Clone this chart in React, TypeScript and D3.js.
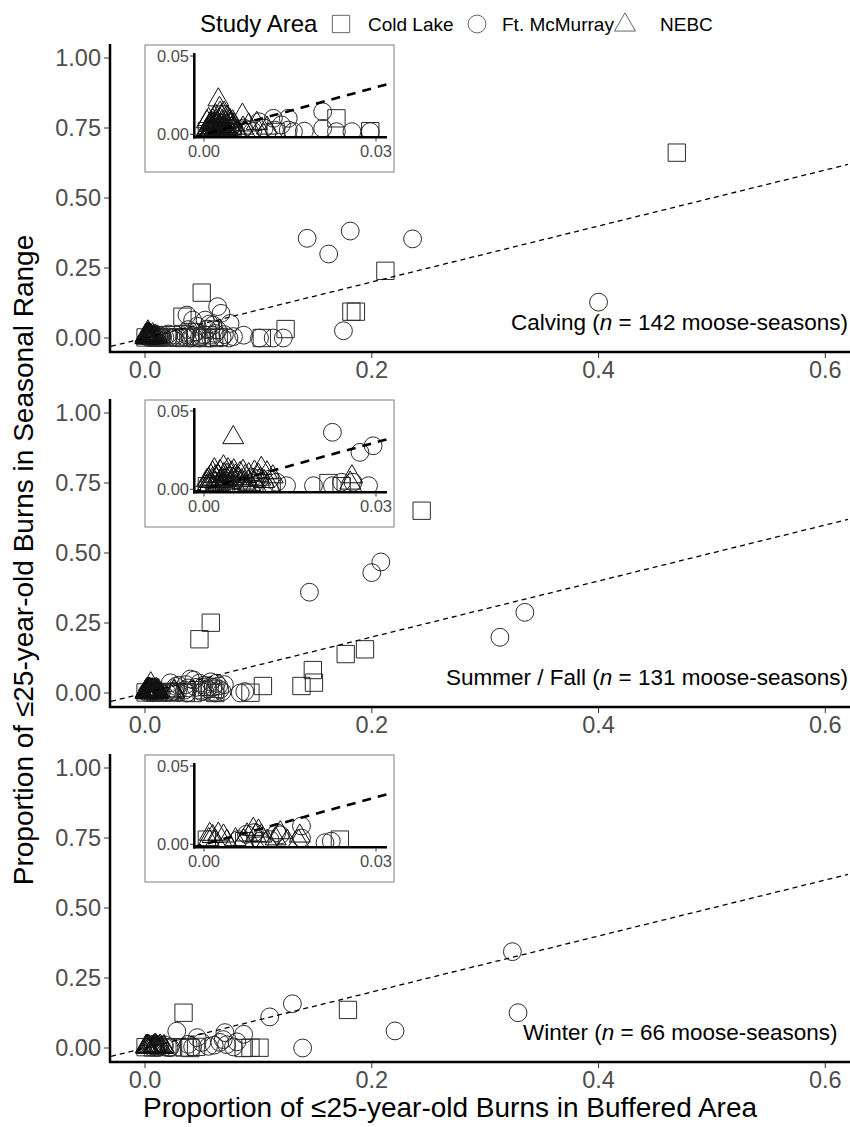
import React, { useEffect, useRef } from 'react';
import * as d3 from 'd3';

type Pt = [number, number];

// Calving season
const calvingCold: Pt[] = [
  [0.0231, 0.0102], [0.029, 0.002], [0.0005, 0.002], [0.0125, 0.0015],
  [0.05, 0.162], [0.033, 0.076], [0.124, 0.032], [0.212, 0.24], [0.182, 0.094], [0.186, 0.094],
  [0.469, 0.662], [0.103, 0.0], [0.061, 0.0], [0.05, 0.0], [0.035, 0.0], [0.055, 0.01],
  [0.045, 0.005], [0.04, 0.02], [0.058, 0.03], [0.065, 0.004],
];
const calvingFt: Pt[] = [
  [0.0069, 0.004], [0.0096, 0.008], [0.0121, 0.0102], [0.0123, 0.0027], [0.0147, 0.0102],
  [0.0147, 0.0027], [0.0156, 0.0017], [0.0207, 0.0144], [0.0207, 0.0038], [0.0231, 0.0017],
  [0.0258, 0.0017], [0.029, 0.0017], [0.0105, 0.004], [0.011, 0.001], [0.0045, 0.004],
  [0.003, 0.002], [0.0085, 0.002], [0.0135, 0.006], [0.0175, 0.002], [0.005, 0.0015],
  [0.035, 0.004], [0.037, 0.082], [0.042, 0.064], [0.053, 0.064], [0.064, 0.112], [0.067, 0.088],
  [0.075, 0.052], [0.074, 0.0], [0.078, 0.005], [0.087, 0.01], [0.101, 0.0], [0.113, 0.0],
  [0.122, 0.0], [0.143, 0.356], [0.162, 0.3], [0.181, 0.382], [0.236, 0.354], [0.175, 0.026],
  [0.4, 0.128], [0.036, 0.012], [0.04, 0.0], [0.045, 0.022], [0.05, 0.005], [0.055, 0.032],
  [0.058, 0.0], [0.062, 0.016], [0.068, 0.002], [0.046, 0.042], [0.06, 0.046], [0.038, 0.03],
  [0.052, 0.012], [0.064, 0.028], [0.07, 0.012], [0.042, 0.008], [0.057, 0.05], [0.048, 0.0],
];
const calvingNebc: Pt[] = [
  [0.0025, 0.022], [0.0027, 0.0166], [0.0067, 0.0123], [0.0092, 0.007], [0.005, 0.008],
  [0.004, 0.011], [0.002, 0.012], [0.0015, 0.009], [0.001, 0.006], [0.0005, 0.003],
  [0.001, 0.001], [0.002, 0.004], [0.003, 0.006], [0.0035, 0.002], [0.004, 0.005],
  [0.0045, 0.009], [0.0012, 0.0075], [0.0022, 0.0085], [0.0028, 0.0095], [0.0018, 0.0025],
  [0.0008, 0.0045], [0.0032, 0.0035], [0.0042, 0.0015], [0.0048, 0.004], [0.0052, 0.006],
  [0.0058, 0.002], [0.0068, 0.004], [0.0072, 0.0015], [0.0078, 0.006], [0.0015, 0.0005],
  [0.0025, 0.001], [0.003, 0.0115], [0.0038, 0.0075], [0.002, 0.0065], [0.0005, 0.008],
  [0.0048, 0.0035], [0.0058, 0.001], [0.0003, 0.0015], [0.0013, 0.0035], [0.0035, 0.0135],
  [0.011, 0.004], [0.0095, 0.002],
  [0.001, 0.0025], [0.0015, 0.004], [0.002, 0.0015], [0.0025, 0.005], [0.003, 0.0025],
  [0.0035, 0.0045], [0.004, 0.003], [0.0045, 0.0065], [0.0012, 0.0055], [0.0022, 0.007],
  [0.0032, 0.0082], [0.0018, 0.0105], [0.0028, 0.0135], [0.0008, 0.0095], [0.0042, 0.0102],
  [0.0022, 0.0055], [0.0028, 0.0045], [0.0038, 0.0025], [0.0025, 0.0028], [0.0015, 0.0068],
];

// Summer / Fall season
const summerCold: Pt[] = [
  [0.0217, 0.004], [0.0005, 0.002], [0.024, 0.002], [0.0118, 0.0015],
  [0.058, 0.251], [0.048, 0.192], [0.177, 0.139], [0.194, 0.156], [0.148, 0.082], [0.149, 0.037],
  [0.138, 0.025], [0.104, 0.025], [0.093, 0.001], [0.244, 0.651], [0.057, 0.005], [0.05, 0.01],
  [0.062, 0.0], [0.06, 0.015], [0.036, 0.002], [0.042, 0.0], [0.055, 0.022],
];
const summerFt: Pt[] = [
  [0.0224, 0.0364], [0.0295, 0.0278], [0.0272, 0.0236], [0.0191, 0.0023], [0.0224, 0.0023],
  [0.024, 0.0045], [0.026, 0.0045], [0.0287, 0.0023], [0.0144, 0.0023], [0.0127, 0.0045],
  [0.0098, 0.007], [0.0035, 0.004], [0.0055, 0.006], [0.0075, 0.0035], [0.0085, 0.0075],
  [0.0105, 0.002], [0.0065, 0.001], [0.002, 0.002], [0.0115, 0.0065], [0.0045, 0.0085],
  [0.145, 0.36], [0.2, 0.43], [0.208, 0.468], [0.335, 0.288], [0.313, 0.199], [0.084, 0.0],
  [0.088, 0.005], [0.063, 0.035], [0.06, 0.02], [0.043, 0.046], [0.04, 0.05], [0.035, 0.01],
  [0.037, 0.0], [0.045, 0.02], [0.05, 0.005], [0.055, 0.015], [0.065, 0.025], [0.068, 0.005],
  [0.07, 0.03], [0.036, 0.03], [0.048, 0.035], [0.058, 0.04], [0.052, 0.028], [0.038, 0.018],
  [0.066, 0.012], [0.062, 0.0],
];
const summerNebc: Pt[] = [
  [0.0051, 0.033], [0.0034, 0.0144], [0.01, 0.0134], [0.0258, 0.008], [0.0255, 0.004],
  [0.0063, 0.0102], [0.0078, 0.0094], [0.0015, 0.0105], [0.002, 0.008], [0.001, 0.005],
  [0.0005, 0.002], [0.0025, 0.003], [0.003, 0.0065], [0.004, 0.009], [0.0045, 0.004],
  [0.005, 0.0065], [0.0055, 0.002], [0.006, 0.007], [0.007, 0.004], [0.0075, 0.0015],
  [0.0085, 0.006], [0.009, 0.0025], [0.0095, 0.009], [0.0105, 0.005], [0.0115, 0.0025],
  [0.012, 0.008], [0.0012, 0.0085], [0.0028, 0.0115], [0.0038, 0.0015], [0.0042, 0.0125],
  [0.0018, 0.001], [0.0068, 0.0115], [0.0088, 0.011], [0.0035, 0.0055], [0.0008, 0.0065],
  [0.0048, 0.0105],
  [0.001, 0.003], [0.0015, 0.0065], [0.002, 0.004], [0.0025, 0.0085], [0.003, 0.0015],
  [0.0035, 0.0095], [0.004, 0.0065], [0.0045, 0.0015], [0.0055, 0.0085], [0.0065, 0.0055],
  [0.0072, 0.0082], [0.008, 0.003], [0.0018, 0.0125], [0.0028, 0.005], [0.0052, 0.0118],
  [0.0098, 0.0065], [0.011, 0.0105], [0.0005, 0.0055],
];

// Winter season
const winterCold: Pt[] = [
  [0.0005, 0.003], [0.0237, 0.003], [0.007, 0.002],
  [0.179, 0.136], [0.034, 0.126], [0.101, 0.001], [0.093, 0.001], [0.087, 0.0], [0.04, 0.0],
  [0.045, 0.004], [0.035, 0.002],
];
const winterFt: Pt[] = [
  [0.006, 0.003], [0.0074, 0.0064], [0.0088, 0.0075], [0.0127, 0.0074], [0.0133, 0.006],
  [0.017, 0.0117], [0.017, 0.004], [0.0211, 0.001], [0.0222, 0.002], [0.0115, 0.003],
  [0.0098, 0.002],
  [0.324, 0.344], [0.329, 0.126], [0.2205, 0.061], [0.139, 0.0], [0.13, 0.158], [0.11, 0.111],
  [0.028, 0.06], [0.046, 0.037], [0.0705, 0.055], [0.087, 0.049], [0.069, 0.03], [0.066, 0.02],
  [0.061, 0.01], [0.056, 0.006], [0.038, 0.013], [0.081, 0.022], [0.072, 0.012], [0.05, 0.02],
  [0.078, 0.004], [0.042, 0.004],
];
const winterNebc: Pt[] = [
  [0.001, 0.0064], [0.0015, 0.005], [0.0034, 0.0053], [0.0086, 0.0096], [0.009, 0.0055],
  [0.01, 0.0053], [0.0133, 0.0074], [0.0167, 0.0053], [0.0165, 0.002], [0.0145, 0.002],
  [0.0069, 0.0025], [0.002, 0.002], [0.0025, 0.0065], [0.0008, 0.003], [0.004, 0.002],
  [0.011, 0.002], [0.0125, 0.0035], [0.0075, 0.006], [0.0055, 0.003], [0.0095, 0.0085],
];

const seasons = ['Calving', 'Summer / Fall', 'Winter'];
const seasonN = [142, 131, 66];
const areas = ['Cold Lake', 'Ft. McMurray', 'NEBC'];
const mainXTicks = [0, 0.2, 0.4, 0.6];
const mainYTicks = [0, 0.25, 0.5, 0.75, 1];
const insetXTicks = [0, 0.03];
const insetYTicks = [0, 0.05];

const FONT = '"Liberation Sans", Arial, Helvetica, sans-serif';

export default function App() {
  const ref = useRef<SVGSVGElement>(null);

  useEffect(() => {
    const svg = d3.select(ref.current);
    svg.selectAll('*').remove();

    const sets = [
      [calvingCold, calvingFt, calvingNebc],
      [summerCold, summerFt, summerNebc],
      [winterCold, winterFt, winterNebc],
    ];
    const shapes = [
      d3.symbol(d3.symbolSquare, 300)(),
      d3.symbol(d3.symbolCircle, 250)(),
      d3.symbol(d3.symbolTriangle, 190)(),
    ];
    const strokes = ['#2b2b2b', '#2b2b2b', '#111'];
    // season labels: [anchor x, baseline y, text-anchor]
    const labelPos: [number, number, string][] = [[511, 330, 'start'], [848, 685, 'end'], [523, 1040, 'start']];
    const defs = svg.append('defs');

    sets.forEach((groups, i) => {
      const dy = i * 355;
      const g = svg.append('g');

      // main panel
      const x = d3.scaleLinear().domain([-0.03, 0.62]).range([111, 848]);
      const y = d3.scaleLinear().domain([-0.05, 1.05]).range([352 + dy, 44 + dy]);

      defs.append('clipPath').attr('id', `main-${i}`)
        .append('rect').attr('x', 110).attr('y', 44 + dy).attr('width', 740).attr('height', 308);
      const plot = g.append('g').attr('clip-path', `url(#main-${i})`);
      groups.forEach((pts, k) => {
        plot.selectAll(null).data(pts).join('path')
          .attr('transform', (d) => `translate(${x(d[0])},${y(d[1])})`)
          .attr('d', shapes[k])
          .attr('fill', 'none')
          .attr('stroke', strokes[k])
          .attr('stroke-width', 1);
      });
      plot.append('line')
        .attr('x1', x(-0.03)).attr('y1', y(-0.03))
        .attr('x2', x(0.62)).attr('y2', y(0.62))
        .attr('stroke', '#000').attr('stroke-width', 1.3).attr('stroke-dasharray', '5,4');

      // axes
      g.append('line').attr('x1', 110).attr('x2', 110).attr('y1', y(1.05)).attr('y2', y(-0.05) + 1)
        .attr('stroke', '#000').attr('stroke-width', 2.5);
      g.append('line').attr('x1', 109).attr('x2', 850).attr('y1', y(-0.05)).attr('y2', y(-0.05))
        .attr('stroke', '#000').attr('stroke-width', 2.5);

      mainYTicks.forEach((t) => {
        g.append('line').attr('x1', 104).attr('x2', 109).attr('y1', y(t)).attr('y2', y(t))
          .attr('stroke', '#333').attr('stroke-width', 1);
        g.append('text').attr('x', 101).attr('y', y(t)).attr('dy', '0.36em')
          .attr('text-anchor', 'end').attr('font-size', 23.5).attr('fill', '#4d4d4d')
          .text(d3.format('.2f')(t));
      });
      mainXTicks.forEach((t) => {
        g.append('line').attr('x1', x(t)).attr('x2', x(t)).attr('y1', y(-0.05) + 1).attr('y2', y(-0.05) + 6)
          .attr('stroke', '#333').attr('stroke-width', 1);
        g.append('text').attr('x', x(t)).attr('y', y(-0.05) + 26)
          .attr('text-anchor', 'middle').attr('font-size', 23.5).attr('fill', '#4d4d4d')
          .text(d3.format('.1f')(t));
      });

      // season label
      const lab = g.append('text').attr('x', labelPos[i][0]).attr('y', labelPos[i][1])
        .attr('text-anchor', labelPos[i][2])
        .attr('font-size', 22.5).attr('fill', '#000');
      lab.append('tspan').text(`${seasons[i]} (`);
      lab.append('tspan').attr('font-style', 'italic').text('n');
      lab.append('tspan').text(` = ${seasonN[i]} moose-seasons)`);

      // inset
      const ix = d3.scaleLinear().domain([0, 0.03]).range([204, 376]);
      const iy = d3.scaleLinear().domain([0, 0.05]).range([134.3 + dy, 56 + dy]);
      const ig = g.append('g');
      ig.append('rect').attr('x', 145).attr('y', 45 + dy).attr('width', 249).attr('height', 127)
        .attr('fill', '#fff').attr('stroke', '#7f7f7f').attr('stroke-width', 1);
      defs.append('clipPath').attr('id', `inset-${i}`)
        .append('rect').attr('x', 194.3).attr('y', 53 + dy).attr('width', 193).attr('height', 84.3);
      const iplot = ig.append('g').attr('clip-path', `url(#inset-${i})`);
      groups.forEach((pts, k) => {
        iplot.selectAll(null).data(pts).join('path')
          .attr('transform', (d) => `translate(${ix(d[0])},${iy(d[1])})`)
          .attr('d', shapes[k])
          .attr('fill', 'none')
          .attr('stroke', strokes[k])
          .attr('stroke-width', 1);
      });
      iplot.append('line')
        .attr('x1', ix(-0.002)).attr('y1', iy(-0.002))
        .attr('x2', ix(0.033)).attr('y2', iy(0.033))
        .attr('stroke', '#000').attr('stroke-width', 2.6).attr('stroke-dasharray', '9,7');

      ig.append('line').attr('x1', 194.3).attr('x2', 194.3).attr('y1', 53 + dy).attr('y2', 138.5 + dy)
        .attr('stroke', '#000').attr('stroke-width', 2.5);
      ig.append('line').attr('x1', 193).attr('x2', 387).attr('y1', 137.3 + dy).attr('y2', 137.3 + dy)
        .attr('stroke', '#000').attr('stroke-width', 2.5);
      insetYTicks.forEach((t) => {
        ig.append('line').attr('x1', 190).attr('x2', 193).attr('y1', iy(t)).attr('y2', iy(t))
          .attr('stroke', '#333').attr('stroke-width', 1);
        ig.append('text').attr('x', 189).attr('y', iy(t)).attr('dy', '0.36em')
          .attr('text-anchor', 'end').attr('font-size', 16.5).attr('fill', '#4d4d4d')
          .text(d3.format('.2f')(t));
      });
      insetXTicks.forEach((t) => {
        ig.append('line').attr('x1', ix(t)).attr('x2', ix(t)).attr('y1', 138.5 + dy).attr('y2', 141.5 + dy)
          .attr('stroke', '#333').attr('stroke-width', 1);
        ig.append('text').attr('x', ix(t)).attr('y', 157 + dy)
          .attr('text-anchor', 'middle').attr('font-size', 16.5).attr('fill', '#4d4d4d')
          .text(d3.format('.2f')(t));
      });
    });

    // legend
    const lg = svg.append('g');
    lg.append('text').attr('x', 200).attr('y', 32).attr('font-size', 24).text('Study Area');
    const keyX = [341, 477, 625];
    const textX = [368, 502, 660];
    areas.forEach((a, k) => {
      lg.append('path').attr('transform', `translate(${keyX[k]},${k === 2 ? 25 : 24})`)
        .attr('d', shapes[k]).attr('fill', 'none').attr('stroke', '#555').attr('stroke-width', 0.9);
      lg.append('text').attr('x', textX[k]).attr('y', 31).attr('font-size', 19).text(a);
    });

    // axis titles
    svg.append('text').attr('x', 143).attr('y', 1117).attr('font-size', 28)
      .text('Proportion of ≤25-year-old Burns in Buffered Area');
    svg.append('text').attr('transform', 'translate(33,560) rotate(-90)')
      .attr('text-anchor', 'middle').attr('font-size', 28)
      .text('Proportion of ≤25-year-old Burns in Seasonal Range');
  }, []);

  return (
    <svg
      ref={ref}
      width={850}
      height={1127}
      style={{ position: 'absolute', left: 0, top: 0, background: '#fff', fontFamily: FONT }}
    />
  );
}
